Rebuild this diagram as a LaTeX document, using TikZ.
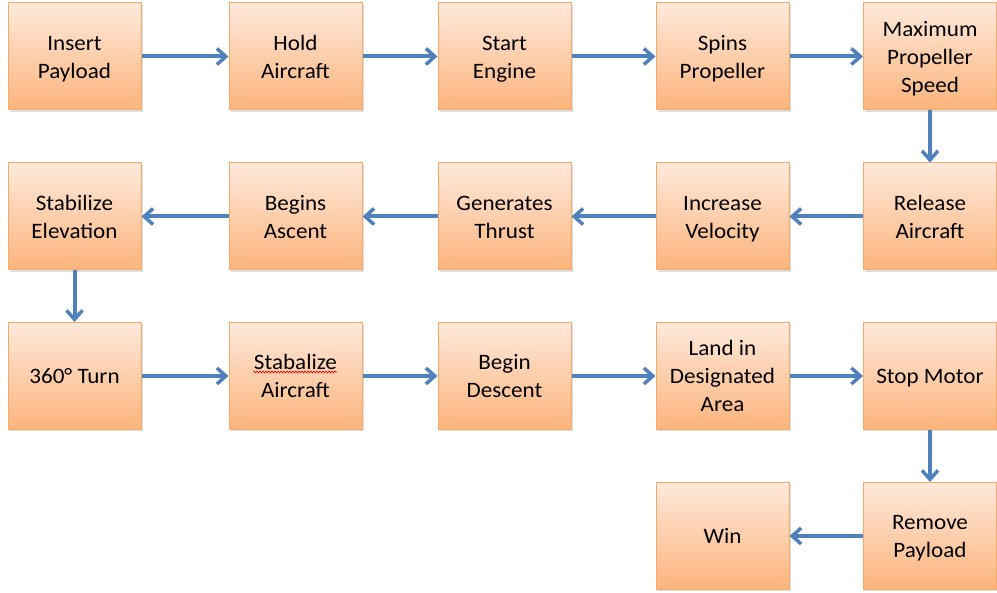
\documentclass[tikz,border=0pt]{standalone}
\usepackage{fontspec}
\setmainfont{Carlito}[FakeStretch=1.05]
\usetikzlibrary{arrows.meta,shadows,decorations.pathmorphing}
\definecolor{boxtop}{HTML}{FEE9DB}
\definecolor{boxbot}{HTML}{FBB47C}
\definecolor{boxline}{HTML}{F5AA6A}
\definecolor{arr}{HTML}{4F81BD}
\newcommand{\bxl}[1]{\rule[-6.4pt]{0pt}{28pt}#1}
\tikzset{
  stepbox/.style={draw=boxline, line width=1pt, top color=boxtop, bottom color=boxbot,
    minimum width=133pt, minimum height=107pt, align=center, inner sep=0pt,
    font=\fontsize{22}{28}\selectfont,
    drop shadow={opacity=0.25, shadow xshift=1.5pt, shadow yshift=-2pt}},
  flow/.style={draw=arr, line width=4pt, -{Straight Barb[length=9pt, width=16pt, line width=3.5pt]}}
}
\begin{document}
\begin{tikzpicture}[x=1pt,y=-1pt]
\useasboundingbox (0,0) rectangle (997,593);
% row 1
\node[stepbox] (a1) at (74.5,56.5) {\bxl{Insert}\\\bxl{Payload}};
\node[stepbox] (a2) at (295.5,56.5) {\bxl{Hold}\\\bxl{Aircraft}};
\node[stepbox] (a3) at (504.5,56.5) {\bxl{Start}\\\bxl{Engine}};
\node[stepbox] (a4) at (722.5,56.5) {\bxl{Spins}\\\bxl{Propeller}};
\node[stepbox] (a5) at (930,56.5) {\bxl{Maximum}\\\bxl{Propeller}\\\bxl{Speed}};
% row 2
\node[stepbox] (b5) at (930,216.5) {\bxl{Release}\\\bxl{Aircraft}};
\node[stepbox] (b4) at (722.5,216.5) {\bxl{Increase}\\\bxl{Velocity}};
\node[stepbox] (b3) at (504.5,216.5) {\bxl{Generates}\\\bxl{Thrust}};
\node[stepbox] (b2) at (295.5,216.5) {\bxl{Begins}\\\bxl{Ascent}};
\node[stepbox] (b1) at (74.5,216.5) {\bxl{Stabilize}\\\bxl{Elevation}};
% row 3
\node[stepbox] (c1) at (74.5,376) {\bxl{360° Turn}};
\node[stepbox] (c2) at (295.5,376) {\bxl{Stabalize}\\\bxl{Aircraft}};
\node[stepbox] (c3) at (504.5,376) {\bxl{Begin}\\\bxl{Descent}};
\node[stepbox] (c4) at (722.5,376) {\bxl{Land in}\\\bxl{Designated}\\\bxl{Area}};
\node[stepbox] (c5) at (930,376) {\bxl{Stop Motor}};
% row 4
\node[stepbox] (d5) at (930,536) {\bxl{Remove}\\\bxl{Payload}};
\node[stepbox] (d4) at (722.5,536) {\bxl{Win}};
% spell-check underline
\coordinate (w1) at (253,372);
\coordinate (w2) at (337,372);
\draw[red!85!black, line width=0.6pt, decorate, decoration={snake, amplitude=1pt, segment length=3pt}] (w1) -- (w2);
% arrows
\draw[flow] (a1) -- (a2);
\draw[flow] (a2) -- (a3);
\draw[flow] (a3) -- (a4);
\draw[flow] (a4) -- (a5);
\draw[flow] (a5) -- (b5);
\draw[flow] (b5) -- (b4);
\draw[flow] (b4) -- (b3);
\draw[flow] (b3) -- (b2);
\draw[flow] (b2) -- (b1);
\draw[flow] (b1) -- (c1);
\draw[flow] (c1) -- (c2);
\draw[flow] (c2) -- (c3);
\draw[flow] (c3) -- (c4);
\draw[flow] (c4) -- (c5);
\draw[flow] (c5) -- (d5);
\draw[flow] (d5) -- (d4);
\end{tikzpicture}
\end{document}
